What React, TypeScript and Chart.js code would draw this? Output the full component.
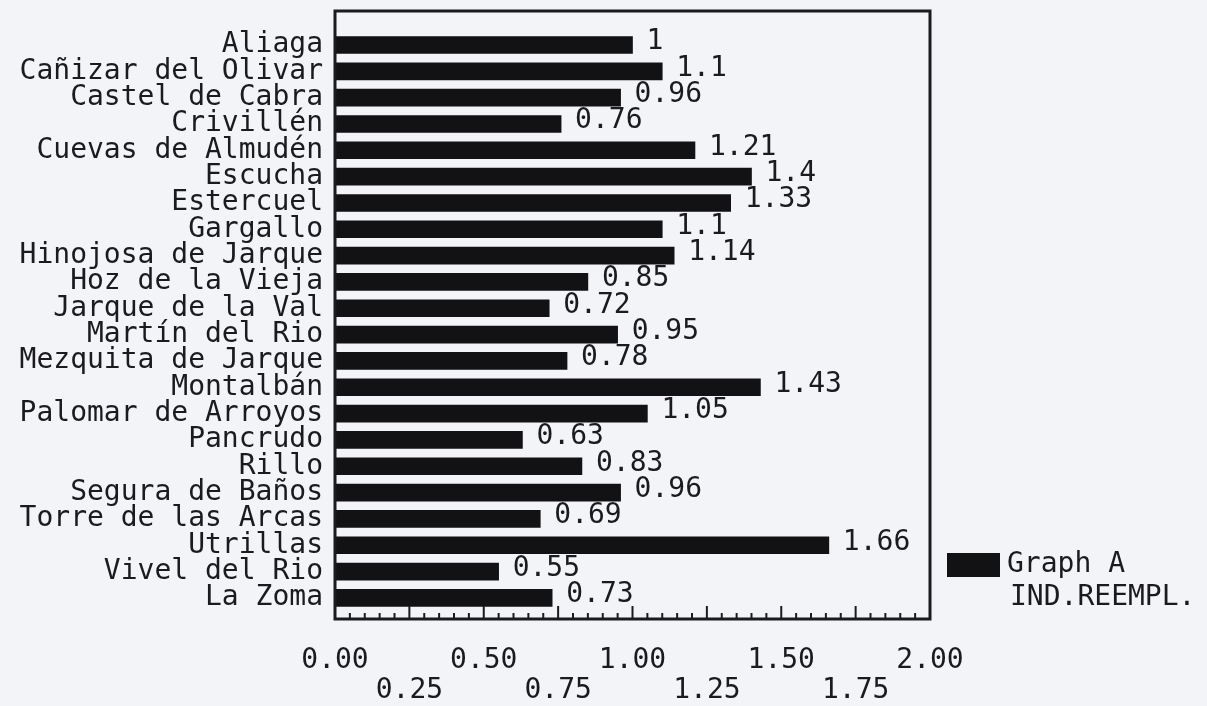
import React, { useEffect, useRef } from "react";
import { Chart, registerables } from "chart.js";

Chart.register(...registerables);

const categories = [
  "Aliaga",
  "Cañizar del Olivar",
  "Castel de Cabra",
  "Crivillén",
  "Cuevas de Almudén",
  "Escucha",
  "Estercuel",
  "Gargallo",
  "Hinojosa de Jarque",
  "Hoz de la Vieja",
  "Jarque de la Val",
  "Martín del Rio",
  "Mezquita de Jarque",
  "Montalbán",
  "Palomar de Arroyos",
  "Pancrudo",
  "Rillo",
  "Segura de Baños",
  "Torre de las Arcas",
  "Utrillas",
  "Vivel del Rio",
  "La Zoma",
];

const values = [1, 1.1, 0.96, 0.76, 1.21, 1.4, 1.33, 1.1, 1.14, 0.85, 0.72, 0.95, 0.78, 1.43, 1.05, 0.63, 0.83, 0.96, 0.69, 1.66, 0.55, 0.73];

const xTickLabels = ["0.00", "0.25", "0.50", "0.75", "1.00", "1.25", "1.50", "1.75", "2.00"];

const legendLines = ["Graph A", "IND.REEMPL."];

const FONT = "'DejaVu Sans Mono', monospace";
const INK = "#1b1b1e";
const BG = "#f3f4f8";

const decorPlugin = {
  id: "decor",
  afterDatasetsDraw(chart: any) {
    const { ctx, chartArea: a, scales } = chart;
    const xs = scales.x;
    ctx.save();
    // frame
    ctx.strokeStyle = INK;
    ctx.lineWidth = 3;
    ctx.strokeRect(a.left, a.top, a.right - a.left, a.bottom - a.top);
    // inner ticks
    ctx.lineWidth = 2;
    for (let k = 0; k <= 40; k++) {
      const px = xs.getPixelForValue(k * 0.05);
      const len = k % 5 === 0 ? 13 : 6;
      ctx.beginPath();
      ctx.moveTo(px, a.bottom);
      ctx.lineTo(px, a.bottom - len);
      ctx.stroke();
    }
    // value labels
    ctx.font = `28px ${FONT}`;
    ctx.fillStyle = INK;
    ctx.textBaseline = "middle";
    ctx.textAlign = "left";
    const meta = chart.getDatasetMeta(0);
    meta.data.forEach((el: any, i: number) => {
      const p = el.getProps(["x", "y"], true);
      ctx.fillText(String(values[i]), p.x + 14, p.y - 3);
    });
    // legend
    const lx = a.right + 17;
    const ly = a.bottom - 66;
    ctx.fillStyle = chart.data.datasets[0].backgroundColor;
    ctx.fillRect(lx, ly, 53, 24);
    ctx.fillStyle = INK;
    ctx.fillText(legendLines[0], lx + 60, ly + 12);
    ctx.fillText(legendLines[1], lx + 63, ly + 45);
    ctx.restore();
  },
};

export default function App() {
  const ref = useRef<HTMLCanvasElement | null>(null);

  useEffect(() => {
    if (!ref.current) return;
    const chart = new Chart(ref.current, {
      type: "bar",
      data: {
        datasets: [
          {
            label: legendLines[1],
            data: values.map((v, i) => ({ x: v, y: i })) as any,
            backgroundColor: "#121214",
            borderWidth: 0,
            barThickness: 17,
          },
        ],
      },
      options: {
        indexAxis: "y",
        responsive: false,
        animation: false,
        layout: { padding: { top: 11, right: 277, bottom: 0, left: 0 } },
        plugins: {
          legend: { display: false },
          tooltip: { enabled: false },
        },
        scales: {
          x: {
            type: "linear",
            min: 0,
            max: 2,
            grid: { display: false, drawTicks: false },
            border: { display: false },
            afterFit: (s: any) => {
              s.height = 87;
            },
            ticks: {
              stepSize: 0.25,
              autoSkip: false,
              maxRotation: 0,
              minRotation: 0,
              padding: 26,
              color: INK,
              font: { family: FONT, size: 28, lineHeight: 1.1 },
              callback: (_v: any, i: number) => {
                const t = xTickLabels[i] ?? "";
                return i % 2 === 0 ? [t, ""] : ["", t];
              },
            },
          },
          y: {
            type: "linear",
            reverse: true,
            offset: false,
            min: -1.29,
            max: 21.8,
            grid: { display: false, drawTicks: false, offset: false },
            border: { display: false },
            afterFit: (s: any) => {
              s.width = 335;
              s.paddingTop = 0;
              s.paddingBottom = 0;
            },
            ticks: {
              stepSize: 1,
              autoSkip: false,
              includeBounds: false,
              padding: 12,
              color: INK,
              font: { family: FONT, size: 28, lineHeight: 1.0 },
              callback: (v: any) => {
                const n = Number(v);
                return Number.isInteger(n) && n >= 0 && n < categories.length ? categories[n] : "";
              },
            },
          },
        },
      },
      plugins: [decorPlugin],
    });
    return () => chart.destroy();
  }, []);

  return (
    <div style={{ position: "fixed", left: 0, top: 0, width: 1207, height: 706, background: BG }}>
      <canvas ref={ref} width={1207} height={706} style={{ width: 1207, height: 706, display: "block" }} />
    </div>
  );
}
